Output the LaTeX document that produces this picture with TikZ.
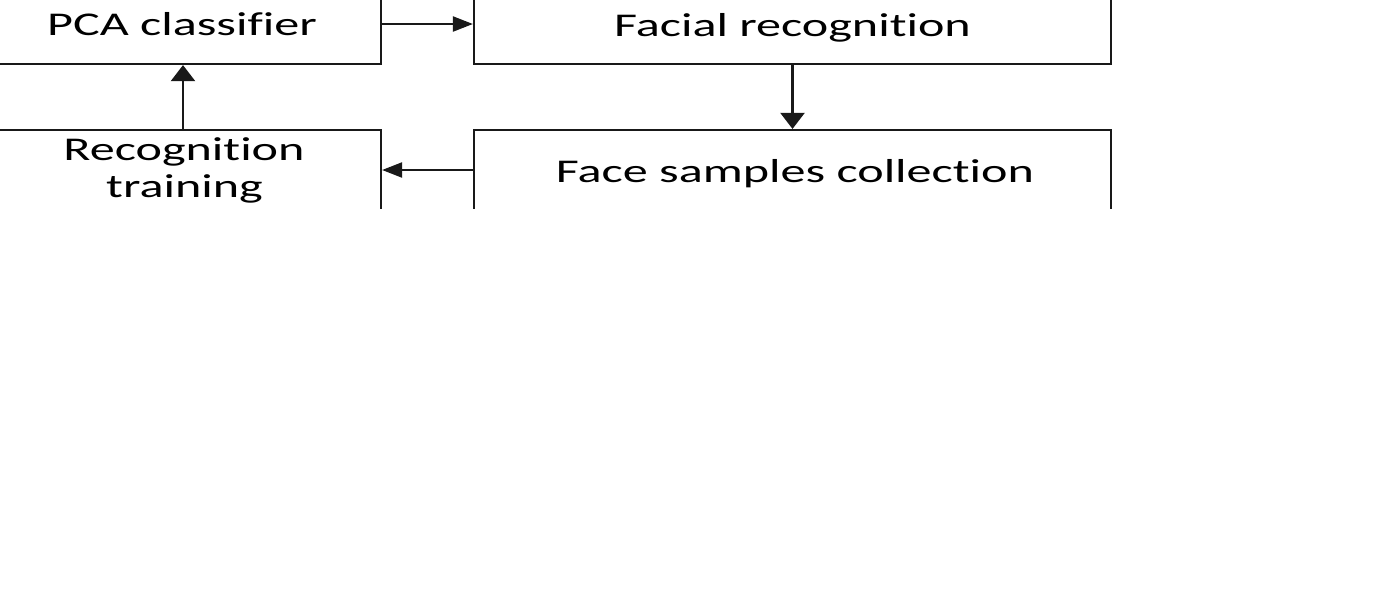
\documentclass[tikz,border=0pt]{standalone}
\usepackage{fontspec}
\setmainfont{Carlito}[Ligatures=NoCommon]
\usetikzlibrary{arrows.meta}
\begin{document}
\begin{tikzpicture}[x=0.5pt,y=-0.5pt,
  box/.style={draw=black!90, line width=1.1pt, rectangle, inner sep=0pt},
  lbl/.style={inner sep=0pt, anchor=base, font=\fontsize{16.6pt}{20pt}\selectfont, text=black},
  harrow/.style={draw=black!90, line width=1.1pt, -{Triangle[length=10pt,width=7.5pt]}},
  varrow/.style={draw=black!90, line width=1.1pt, -{Triangle[length=8pt,width=12pt]}}]
\useasboundingbox (0,0) rectangle (1399,612);
\fill[white] (0,0) rectangle (1399,612);
\begin{scope}
\clip (0,0) rectangle (1399,208);
\node[box, minimum width=198pt, minimum height=40pt] (pca) at (183,24) {};
\node[box, minimum width=318.5pt, minimum height=40pt] (fr) at (792.5,24) {};
\node[box, minimum width=198pt, minimum height=40pt] (rt) at (183,170) {};
\node[box, minimum width=318.5pt, minimum height=40pt] (fs) at (792.5,170) {};
\node[lbl] (tpca) at (182,35) {\scalebox{1.51}[1]{PCA classifier}};
\node[lbl] (tfr) at (792.5,36) {\scalebox{1.51}[1]{Facial recognition}};
\node[lbl] (tfs) at (795,182) {\scalebox{1.51}[1]{Face samples collection}};
\node[lbl] (trt1) at (184,160) {\scalebox{1.51}[1]{Recognition}};
\node[lbl] (trt2) at (184.5,197) {\scalebox{1.51}[1]{training}};
\draw[harrow] (pca.east) -- (fr.west);
\draw[varrow] (fr.south) -- (fs.north);
\draw[harrow] (fs.west) -- (rt.east);
\draw[varrow] (rt.north) -- (pca.south);
\end{scope}
\end{tikzpicture}
\end{document}
